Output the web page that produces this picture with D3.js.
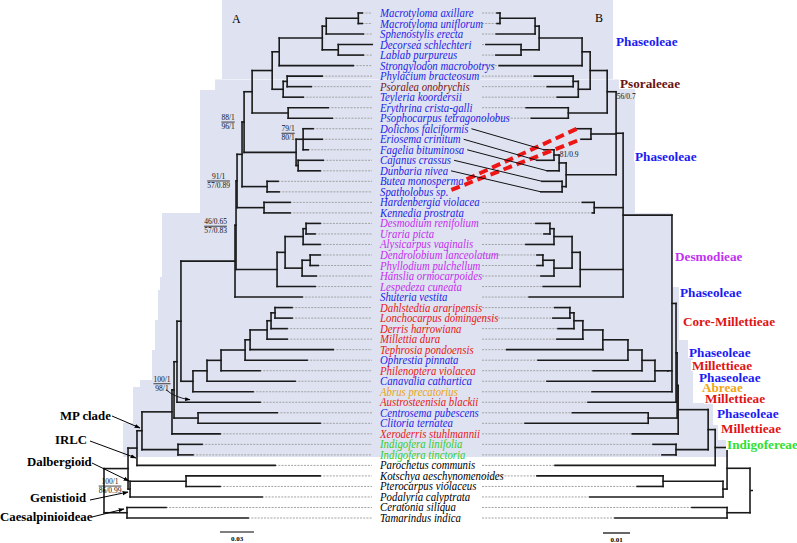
<!DOCTYPE html>
<html><head><meta charset="utf-8">
<script src="https://cdn.jsdelivr.net/npm/d3@7"></script>
<style>body{margin:0;background:#fff}svg{display:block}</style>
</head><body>
<svg id="c" width="797" height="543"></svg>
<script>
// ---------------- DATA ----------------
const taxaA = ["Macrotyloma axillare","Macrotyloma uniflorum","Sphenostylis erecta","Decorsea schlechteri","Lablab purpureus","Strongylodon macrobotrys","Phylacium bracteosum","Psoralea onobrychis","Teyleria koordersii","Erythrina crista-galli","Psophocarpus tetragonolobus","Dolichos falciformis","Eriosema crinitum","Fagelia bituminosa","Cajanus crassus","Dunbaria nivea","Butea monosperma","Spatholobus sp.","Hardenbergia violacea","Kennedia prostrata","Desmodium renifolium","Uraria picta","Alysicarpus vaginalis","Dendrolobium lanceolatum","Phyllodium pulchellum","Hanslia ormocarpoides","Lespedeza cuneata","Shuteria vestita","Dahlstedtia araripensis","Lonchocarpus domingensis","Derris harrowiana","Millettia dura","Tephrosia pondoensis","Ophrestia pinnata","Philenoptera violacea","Canavalia cathartica","Abrus precatorius","Austrosteenisia blackii","Centrosema pubescens","Clitoria ternatea","Xeroderris stuhlmannii","Indigofera linifolia","Indigofera tinctoria","Parochetus communis","Kotschya aeschynomenoides","Pterocarpus violaceus","Podalyria calyptrata","Ceratonia siliqua","Tamarindus indica"];
const taxonGroup = ["P","P","P","P","P","P","P","S","P","P","P","P","P","P","P","P","P","P","P","P","D","D","D","D","D","D","D","P","M","M","M","M","M","P","M","P","A","M","P","P","M","I","I","O","O","O","O","O","O"];
const swappedB = ["Butea monosperma","Spatholobus sp.","Dolichos falciformis","Eriosema crinitum","Fagelia bituminosa","Cajanus crassus","Dunbaria nivea"];
const taxaB = [...taxaA.slice(0,11), ...swappedB, ...taxaA.slice(18)];
const redLinks = ["Butea monosperma","Spatholobus sp."];

// Tree A, branch lengths in substitutions/site
const newickA = `((((((((((((((((((((Macrotyloma_axillare:0.0035,Macrotyloma_uniflorum:0.0035)Mac:0.0283,Sphenostylis_erecta:0.0327)Nt5:0.0035,(Decorsea_schlechteri:0.0300,Lablab_purpureus:0.0221)DecLab:0.0141)Nt4:0.0380,Strongylodon_macrobotrys:0.0653)Nt3:0.0062,((Phylacium_bracteosum:0.0309,Psoralea_onobrychis:0.0212)Pso1:0.0035,Teyleria_koordersii:0.0177)Pso2:0.0097)Nt2:0.0177,(Erythrina_crista-galli:0.0353,Psophocarpus_tetragonolobus:0.0389)EryPso:0.0318)Ntop:0.0071,((Dolichos_falciformis:0.0088,Eriosema_crinitum:0.0168,Fagelia_bituminosa:0.0044)Dol:0.0062,(Cajanus_crassus:0.0221,Dunbaria_nivea:0.0194)Caj:0.0018)DolCaj:0.0459)N88:0.0018,(Butea_monosperma:0.0097,Spatholobus_sp.:0.0106)ButSpa:0.0221)NBj:0.0044,(Hardenbergia_violacea:0.0230,Kennedia_prostrata:0.0230)HarKen:0.0238)N91:0.0009,((((Desmodium_renifolium:0.0124,Uraria_picta:0.0079)DesUra:0.0026,Alysicarpus_vaginalis:0.0150)D3:0.0159,((Dendrolobium_lanceolatum:0.0088,Phyllodium_pulchellum:0.0071)DenPhy:0.0071,Hanslia_ormocarpoides:0.0124)D4:0.0150)D2:0.0071,Lespedeza_cuneata:0.0336)Desmod:0.0362)N46:0.0009,Shuteria_vestita:0.0592)Nnext:0.0477,((((((((Dahlstedtia_araripensis:0.0150,Lonchocarpus_domingensis:0.0150)DahLon:0.0035,Derris_harrowiana:0.0141)Nder:0.0035,Millettia_dura:0.0177)Nmil:0.0150,Tephrosia_pondoensis:0.0733)Nteph:0.0044,Ophrestia_pinnata:0.0547)Noph:0.0212,Philenoptera_violacea:0.0344)Nphil:0.0124,Canavalia_cathartica:0.0777)Ncan:0.0124,Abrus_precatorius:0.0530)Nabrus:0.0106)B1:0.0035,Austrosteenisia_blackii:0.0733)B2:0.0026,(Centrosema_pubescens:0.0698,Clitoria_ternatea:0.1077)CentClit:0.0212)B3:0.0018,Xeroderris_stuhlmannii:0.0424)B4:0.0265,(Indigofera_linifolia:0.0212,Indigofera_tinctoria:0.0132)Indig:0.0318)MP:0.0044,Parochetus_communis:0.1219)IRLCj:0.0079,((Kotschya_aeschynomenoides:0.1183,Pterocarpus_violaceus:0.0300)Dalb:0.0494,Podalyria_calyptrata:0.1165)DalGen:0.0018)Pap:0.0212,(Ceratonia_siliqua:0.0344,Tamarindus_indica:0.1068)Caes:0.0203)Root;`;

// Tree B (mirrored)
const newickB = `((((((((((((((((Macrotyloma_axillare:0.0011,Macrotyloma_uniflorum:0.0011)Mac:0.0130,Sphenostylis_erecta:0.0144)N1:0.0015,(Decorsea_schlechteri:0.0130,Lablab_purpureus:0.0093)DecLab:0.0067)N2:0.0159,Strongylodon_macrobotrys:0.0307)N3:0.0030,((Phylacium_bracteosum:0.0144,Psoralea_onobrychis:0.0096)Pso1:0.0019,Teyleria_koordersii:0.0078)Pso2:0.0044)N4:0.0063,(Erythrina_crista-galli:0.0156,Psophocarpus_tetragonolobus:0.0137)EryPso:0.0144)N5:0.0033,(Butea_monosperma:0.0052,Spatholobus_sp.:0.0037)ButSpa:0.0093,(((Dolichos_falciformis:0.0037,Eriosema_crinitum:0.0063)Dol1:0.0019,Fagelia_bituminosa:0.0044)Dol2:0.0026,(Cajanus_crassus:0.0074,Dunbaria_nivea:0.0078)Caj:0.0015)Dol3:0.0185)N6:0.0026,(Hardenbergia_violacea:0.0044,Kennedia_prostrata:0.0007)HarKen:0.0107,((((Desmodium_renifolium:0.0052,Uraria_picta:0.0022)DesUra:0.0015,Alysicarpus_vaginalis:0.0104)Dm3:0.0067,((Dendrolobium_lanceolatum:0.0022,Phyllodium_pulchellum:0.0022)DenPhy:0.0041,Hanslia_ormocarpoides:0.0048)Dm4:0.0067)Dm2:0.0030,Lespedeza_cuneata:0.0137)Desmod:0.0159,Shuteria_vestita:0.0348)N7:0.0181,((((((((Dahlstedtia_araripensis:0.0056,Lonchocarpus_domingensis:0.0063)DahLon:0.0015,Derris_harrowiana:0.0059)Nder:0.0033,Millettia_dura:0.0096)Nmil:0.0074,Tephrosia_pondoensis:0.0356)Nteph:0.0093,Ophrestia_pinnata:0.0333)Noph:0.0052,Philenoptera_violacea:0.0181)Nphil:0.0048,Canavalia_cathartica:0.0400)Ncan:0.0048)Ba:0.0015,Abrus_precatorius:0.0296)Bb:0.0015,Austrosteenisia_blackii:0.0326)Bc:0.0004,(Centrosema_pubescens:0.0281,Clitoria_ternatea:0.0456)CentClit:0.0107)Bd:0.0004,Xeroderris_stuhlmannii:0.0170)Be:0.0111,(Indigofera_linifolia:0.0085,Indigofera_tinctoria:0.0052)Indig:0.0119)MP:0.0026,Parochetus_communis:0.0593)IRLC:0.0044,((Kotschya_aeschynomenoides:0.0467,Pterocarpus_violaceus:0.0096)Dalb:0.0222,Podalyria_calyptrata:0.0493)Pap1:0.0015)Pap:0.0085,(Ceratonia_siliqua:0.0130,Tamarindus_indica:0.0415)Caes:0.0085)Root;`;

// support values
const supportNodesA = ["N88","N91","N46","Dol","B2","DalGen"];
const supportTopA = ["88/1","91/1","46/0.65","79/1","100/1","100/1"];
const supportBotA = ["96/1","57/0.89","57/0.83","80/1","98/1","86/0.99"];
const supportNodesB = ["N5","Dol2"];
const supportTextB = ["56/0.7","81/0.9"];

// clade (tribe) labels
const cladeText = ["Phaseoleae","Psoraleeae","Phaseoleae","Desmodieae","Phaseoleae","Core-Millettieae","Phaseoleae","Millettieae","Phaseoleae","Abreae","Millettieae","Phaseoleae","Millettieae","Indigofereae"];
const cladeGroup = ["P","S","P","D","P","M","P","M","P","A","M","P","M","I"];
const groupNames = ["MP clade","IRLC","Dalbergioid","Genistioid","Caesalpinioideae"];

// ---------------- LAYOUT / STYLE ----------------
const W=797,H=543;
const leafColor = {P:"#1f1fe6",S:"#741616",D:"#c42eee",M:"#e81818",A:"#eca216",I:"#33cc2c",O:"#000"};
const cladeColor = {P:"#1a1af5",S:"#6a1212",D:"#c231f2",M:"#e01414",A:"#f2a414",I:"#2fe02f"};
const rowTop=13,rowBottom=518;
const labelX=380, labelScale=0.9, labelSize=12, dotEndA=372, dotStartB=482;
const supportOffA=[[-16,0],[-18.5,0],[-20.5,1],[-15,-6],[-15,22],[-20,-3]];
const supportOffB=[[19,5],[10,-8.5]];
const cladePos=[[616,42],[620,84],[635,157],[675,257],[680,293],[683,322],[689,353],[692,366],[699,378],[702,388],[705,399],[717,414],[721,429],[727,445]];
const groupPos=[[60,420],[55,444],[27,466],[30,502],[0,521]];
const groupArrows=[[112,416,140,428],[90,441,136,458],[92,463,129,481],[90,500,128,492],[92,517,124,509]];
const leftSteps=[[0,222],[79,215],[90,200],[213,162],[277,160],[290,158],[320,155],[350,152],[380,140],[387,133],[423,123]];
const rightSteps=[[0,613],[79,635],[213,672],[287,679],[340,688],[357,693],[403,713],[425,718],[440,728]];
const shadeBottom=457;

// ---------------- HELPERS ----------------
function parseNewick(str){
  const s=str.replace(/\s+/g,''); let i=0;
  function node(){
    const n={children:[]};
    if(s[i]==='('){ i++;
      while(true){ n.children.push(node()); if(s[i]===','){i++;continue;} break; }
      i++; }
    let name=''; while(i<s.length && !',():;'.includes(s[i])) name+=s[i++];
    n.name=name.replace(/_/g,' ');
    n.length=0;
    if(s[i]===':'){ i++; let l=''; while(i<s.length && !',();'.includes(s[i])) l+=s[i++]; n.length=+l; }
    if(!n.children.length) delete n.children;
    return n;
  }
  return node();
}
function layoutTree(nw,xs,ys){
  const root=d3.hierarchy(parseNewick(nw));
  root.eachBefore(n=>{ n.dist=n.parent? n.parent.dist+n.data.length:0; n.x=xs(n.dist); });
  root.eachAfter(n=>{ n.y = n.children ? (n.children[0].y+n.children[n.children.length-1].y)/2 : ys(n.data.name); });
  return root;
}
function segments(root){
  const segs=[];
  root.descendants().forEach(n=>{
    if(n.parent) segs.push([n.parent.x,n.y,n.x,n.y]);
    if(n.children) segs.push([n.x,n.children[0].y,n.x,n.children[n.children.length-1].y]);
  });
  return segs;
}

const xA=d3.scaleLinear().domain([0,0.03]).range([104,138]);
const xB=d3.scaleLinear().domain([0,0.01]).range([750,723]);
const yA=d3.scalePoint().domain(taxaA).range([rowTop,rowBottom]);
const yB=d3.scalePoint().domain(taxaB).range([rowTop,rowBottom]);
const treeA=layoutTree(newickA,xA,yA);
const treeB=layoutTree(newickB,xB,yB);
const findNode=(t,name)=>t.descendants().find(n=>n.data.name===name);

const svg=d3.select("#c");
svg.append("rect").attr("width",W).attr("height",H).attr("fill","#fff");
const defs=svg.append("defs");
defs.append("marker").attr("id","arr").attr("viewBox","0 0 10 10").attr("refX",9).attr("refY",5)
  .attr("markerWidth",6).attr("markerHeight",6).attr("orient","auto")
  .append("path").attr("d","M0,1.5L10,5L0,8.5Z").attr("fill","#000");

// shading
(function(){
  const pts=[];
  leftSteps.forEach((s,i)=>{ const yEnd = i<leftSteps.length-1? leftSteps[i+1][0]:shadeBottom; pts.push([s[1],s[0]],[s[1],yEnd]); });
  const rp=[];
  rightSteps.forEach((s,i)=>{ const yEnd = i<rightSteps.length-1? rightSteps[i+1][0]:shadeBottom; rp.push([s[1],s[0]],[s[1],yEnd]); });
  rp.reverse().forEach(p=>pts.push(p));
  svg.append("path").attr("d",d3.line()(pts)+"Z").attr("fill","#dee2f1");
  svg.append("line").attr("x1",215).attr("x2",635).attr("y1",79.5).attr("y2",79.5).attr("stroke","#eef0f8").attr("stroke-width",1);
})();

// dotted leaf extensions
const gDot=svg.append("g").attr("stroke","#a3a3a3").attr("stroke-width",1).attr("stroke-dasharray","2,1.2");
treeA.leaves().forEach(l=>{ if(l.x<dotEndA) gDot.append("line").attr("x1",l.x).attr("x2",dotEndA).attr("y1",l.y).attr("y2",l.y); });
treeB.leaves().forEach(l=>{ if(!swappedB.includes(l.data.name) && l.x>dotStartB) gDot.append("line").attr("x1",dotStartB).attr("x2",l.x).attr("y1",l.y).attr("y2",l.y); });

// tree branches
[treeA,treeB].forEach(t=>{
  svg.append("g").attr("stroke","#1a1a1a").attr("stroke-width",1.6).attr("stroke-linecap","square")
    .selectAll("line").data(segments(t)).join("line")
    .attr("x1",d=>d[0]).attr("y1",d=>d[1]).attr("x2",d=>d[2]).attr("y2",d=>d[3]);
});
svg.append("line").attr("x1",xB(0)).attr("x2",xB(0)+3).attr("y1",treeB.y).attr("y2",treeB.y).attr("stroke","#1a1a1a").attr("stroke-width",1.5);

// taxon labels
const labelEnd={};
const gLab=svg.append("g").attr("font-family","'Liberation Serif','Times New Roman',serif").attr("font-style","italic").attr("font-size",labelSize);
taxaA.forEach((t,i)=>{
  const tx=gLab.append("text").attr("transform",`translate(${labelX},${yA(t)+4}) scale(${labelScale},1)`)
    .attr("fill",leafColor[taxonGroup[i]]).text(t);
  labelEnd[t]=labelX+tx.node().getComputedTextLength()*labelScale;
});

// tangle links
const leafB={}; treeB.leaves().forEach(l=>leafB[l.data.name]=l);
swappedB.forEach(t=>{
  const red=redLinks.includes(t);
  svg.append("line").attr("x1",labelEnd[t]+3).attr("y1",yA(t)-(red?2:0)).attr("x2",leafB[t].x).attr("y2",leafB[t].y)
    .attr("stroke",red?"#ee1515":"#111").attr("stroke-width",red?4:1)
    .attr("stroke-dasharray",red?"9,5":null);
});

// support values
const gSup=svg.append("g").attr("font-family","'Liberation Serif','Times New Roman',serif").attr("font-size",7.5).attr("fill","#111");
supportNodesA.forEach((nm,i)=>{
  const n=findNode(treeA,nm); const cx=n.x+supportOffA[i][0], cy=n.y+supportOffA[i][1];
  const t1=gSup.append("text").attr("x",cx).attr("y",cy-2).attr("text-anchor","middle").text(supportTopA[i]);
  const t2=gSup.append("text").attr("x",cx).attr("y",cy+7).attr("text-anchor","middle").text(supportBotA[i]);
  const w=Math.max(t1.node().getComputedTextLength(),t2.node().getComputedTextLength());
  gSup.append("line").attr("x1",cx-w/2).attr("x2",cx+w/2).attr("y1",cy).attr("y2",cy).attr("stroke","#111").attr("stroke-width",0.8);
});
supportNodesB.forEach((nm,i)=>{
  const n=findNode(treeB,nm);
  gSup.append("text").attr("x",n.x+supportOffB[i][0]).attr("y",n.y+supportOffB[i][1]+2.5).attr("text-anchor","middle").text(supportTextB[i]);
});
// arrow from the 100/1 98/1 label to its node
(function(){ const n=findNode(treeA,"B2");
  svg.append("path").attr("d",`M${n.x-11},${n.y+28} Q${n.x-2},${n.y+36} ${n.x+13},${n.y+38}`).attr("fill","none")
  .attr("stroke","#111").attr("stroke-width",0.9).attr("marker-end","url(#arr)"); })();

// panel letters
svg.append("text").attr("x",232).attr("y",23).attr("font-family","'Liberation Serif',serif").attr("font-size",12).text("A");
svg.append("text").attr("x",595).attr("y",22).attr("font-family","'Liberation Serif',serif").attr("font-size",12).text("B");

// clade labels on the right
const gCl=svg.append("g").attr("font-family","'Liberation Serif','Times New Roman',serif").attr("font-weight","bold").attr("font-size",13.2);
const clTexts=cladeText.map((t,i)=>gCl.append("text").attr("x",cladePos[i][0]).attr("y",cladePos[i][1]+4).attr("fill",cladeColor[cladeGroup[i]]).text(t));
clTexts.forEach(tx=>{ const b=tx.node().getBBox();
  gCl.insert("rect","text").attr("x",b.x-1).attr("y",b.y+2).attr("width",b.width+2).attr("height",b.height-4).attr("fill","#fff"); });

// group labels with arrows on the left
const gGr=svg.append("g").attr("font-family","'Liberation Serif','Times New Roman',serif").attr("font-weight","bold").attr("font-size",12.8).attr("fill","#000");
groupNames.forEach((t,i)=>gGr.append("text").attr("x",groupPos[i][0]).attr("y",groupPos[i][1]).text(t));
groupArrows.forEach(a=>svg.append("line").attr("x1",a[0]).attr("y1",a[1]).attr("x2",a[2]).attr("y2",a[3])
  .attr("stroke","#000").attr("stroke-width",1).attr("marker-end","url(#arr)"));

// scale bars
[[xA,0.03,220,532,"0.03"],[xB,0.01,603,533,"0.01"]].forEach(([sc,v,x0,y,lab])=>{
  const w=Math.abs(sc(v)-sc(0));
  svg.append("line").attr("x1",x0).attr("x2",x0+w).attr("y1",y).attr("y2",y).attr("stroke","#000").attr("stroke-width",1.2);
  svg.append("text").attr("x",x0+w/2).attr("y",y+9).attr("text-anchor","middle").attr("font-family","'Liberation Serif',serif")
    .attr("font-weight","bold").attr("font-size",7).text(lab);
});
</script>
</body></html>
